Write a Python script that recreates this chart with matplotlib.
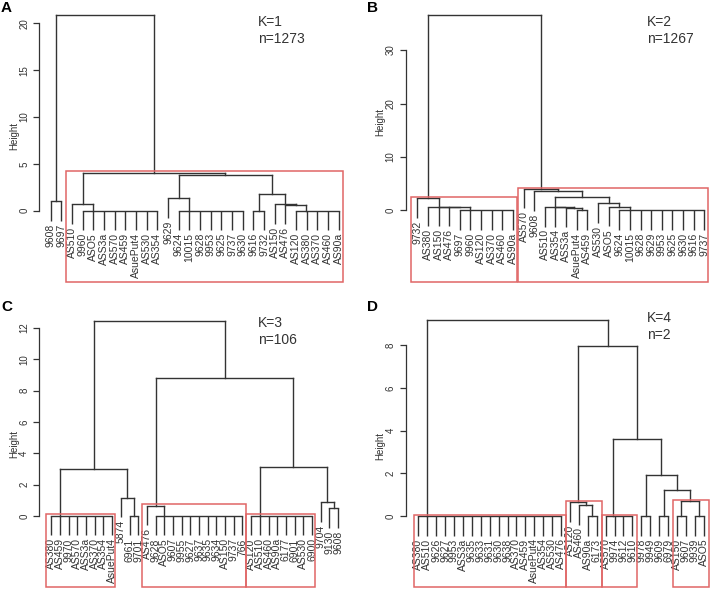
import matplotlib
matplotlib.use("Agg")
import matplotlib.pyplot as plt
from matplotlib.patches import Rectangle

plt.rcParams['font.family'] = ['Liberation Sans', 'DejaVu Sans']

W, H = 711, 589
LINE = '#333333'
BOX = '#e06666'

# Trees: a tuple is (height, left, right), a list is a group of leaves tied at height 0

# A: K=1, n=1273
a_tied1 = ['9960', 'ASO5', 'ASS3a', 'AS570', 'AS459', 'AsuePut4', 'AS530', 'AS354']
a_tied2 = ['9624', '10015', '9628', '9953', '9625', '9737', '9630']
a_tied3 = ['AS120', 'AS380', 'AS370', 'AS460', 'AS90a']
a_tree = (20.9, (1.0, '9608', '9697'),
          (4.02, (0.7, 'AS510', a_tied1),
           (3.76, (1.32, '9629', a_tied2),
            (1.8, (0.0, '9616', '9732'),
             (0.7, 'AS150', (0.65, 'AS476', a_tied3))))))
a_boxes = [('AS510', 'AS90a', 4.24)]

# B: K=2, n=1267
b_tied1 = ['9697', '9960', 'AS120', 'AS370', 'AS460', 'AS90a']
b_tied2 = ['9624', '10015', '9628', '9629', '9953', '9625', '9630', '9616', '9737']
b_tree = (36.5,
          (2.3, '9732', (0.66, 'AS380', (0.64, 'AS150', (0.62, 'AS476', b_tied1)))),
          (4.0, 'AS570',
           (3.6, '9608',
            (2.55,
             (0.6, 'AS510', (0.58, 'AS354', (0.45, 'ASS3a', (0.0, 'AsuePut4', 'AS459')))),
             (1.3, 'AS530', (0.62, 'ASO5', b_tied2))))))
b_boxes = [('9732', 'AS90a', 2.55), ('AS570', '9737', 4.1)]

# C: K=3, n=106
c_tied1 = ['AS380', 'AS459', '9970', 'AS570', 'ASS3a', 'AS370', 'AS354', 'AsuePut4']
c_tied2 = ['9628', 'ASO5', '9607', '9955', '9627', '9637', '9635', '9634', 'AS150', '9737', '766']
c_tied3 = ['AS120', 'AS510', 'AS460', 'AS90a', '6177', '6901', 'AS530', '6900']
c_tree = (12.44,
          (3.02, c_tied1, (1.15, '5874', (0.0, '6961', '9701'))),
          (8.8, (0.66, 'AS476', c_tied2),
           (3.13, c_tied3, (0.87, '9704', (0.49, '9130', '9608')))))
c_boxes = [('AS380', 'AsuePut4', 0.1), ('AS476', '766', 0.77), ('AS120', '6900', 0.1)]

# D: K=4, n=2
d_tied1 = ['AS380', 'AS510', '9626', '9627', '9953', 'ASS3a', '9635', '9633', '9631',
           '9630', '9638', 'AS370', 'AS459', 'AsuePut4', 'AS354', 'AS530', 'AS476']
d_tied2 = ['AS570', '9974', '9612', '9610']
d_tree = (9.19, d_tied1,
          (7.95, (0.64, 'AS120', (0.52, 'AS460', (0.0, 'AS90a', '6173'))),
           (3.59, d_tied2,
            (1.94, (0.0, '9978', '9949'),
             (1.2, (0.0, '9609', '6979'),
              (0.69, (0.0, 'AS150', '9607'), (0.0, '9939', 'ASO5')))))))
d_boxes = [('AS380', 'AS476', 0.05), ('AS120', '6173', 0.7),
           ('AS570', '9610', 0.05), ('AS150', 'ASO5', 0.75)]

panels = [
    dict(tree=a_tree, boxes=a_boxes, letter='A', k='K=1', n='n=1273', yticks=[0, 5, 10, 15, 20],
         leaf0=50.7, step=10.67, zero=210.7, ppu=9.37, left=39.3, right=350, top=5, bottom=282,
         pad=(0.57, 0.4), letter_xy=(1, 8), k_xy=(258, 22), ylab_xy=(14, 136)),
    dict(tree=b_tree, boxes=b_boxes, letter='B', k='K=2', n='n=1267', yticks=[0, 10, 20, 30],
         leaf0=417.3, step=10.63, zero=210.3, ppu=5.34, left=405.7, right=711, top=5, bottom=282,
         pad=(0.57, 0.37), letter_xy=(367, 8), k_xy=(647, 22), ylab_xy=(380, 122)),
    dict(tree=c_tree, boxes=c_boxes, letter='C', k='K=3', n='n=106', yticks=[0, 2, 4, 6, 8, 10, 12],
         leaf0=51.3, step=8.69, zero=516, ppu=15.67, left=39.3, right=350, top=300, bottom=587,
         pad=(0.6, 0.37), letter_xy=(1, 307), k_xy=(258, 323), ylab_xy=(14, 444)),
    dict(tree=d_tree, boxes=d_boxes, letter='D', k='K=4', n='n=2', yticks=[0, 2, 4, 6, 8],
         leaf0=418.3, step=8.92, zero=516, ppu=21.33, left=406, right=711, top=300, bottom=587,
         pad=(0.45, 0.55), letter_xy=(367, 307), k_xy=(647, 318), ylab_xy=(380, 446)),
]


def leaf(ax, x, top, hang, name, where, idx):
    ax.plot([x, x], [top, top - hang], color=LINE, lw=1.0, solid_capstyle='butt')
    ax.annotate(name, (x, top - hang), xytext=(0, -2), textcoords='offset points',
                rotation=90, ha='center', va='top', fontsize=7.5, color=LINE)
    where[name] = idx


def draw(ax, node, hang, pos, where):
    if isinstance(node, list):
        xs = []
        for name in node:
            leaf(ax, pos[0], 0, hang, name, where, pos[0])
            xs.append(pos[0])
            pos[0] += 1
        ax.plot([xs[0], xs[-1]], [0, 0], color=LINE, lw=1.0)
        x = xs[-1]
        for xi in reversed(xs[:-1]):
            x = (xi + x) / 2
        return x, 0.0
    h, lo, hi = node
    xs = []
    for child in (lo, hi):
        if isinstance(child, str):
            x = pos[0]
            leaf(ax, x, h, hang, child, where, x)
            pos[0] += 1
        else:
            x, ch = draw(ax, child, hang, pos, where)
            ax.plot([x, x], [ch, h], color=LINE, lw=1.0)
        xs.append(x)
    ax.plot(xs, [h, h], color=LINE, lw=1.0)
    return (xs[0] + xs[1]) / 2, h


fig = plt.figure(figsize=(W / 100, H / 100), dpi=100)

for p in panels:
    ax = fig.add_axes([p['left'] / W, 1 - p['bottom'] / H,
                       (p['right'] - p['left']) / W, (p['bottom'] - p['top']) / H])
    ax.set_xlim((p['left'] - p['leaf0']) / p['step'], (p['right'] - p['leaf0']) / p['step'])
    ax.set_ylim((p['zero'] - p['bottom']) / p['ppu'], (p['zero'] - p['top']) / p['ppu'])

    hang = 0.1 * p['tree'][0]
    where = {}
    draw(ax, p['tree'], hang, [0], where)

    y0 = ax.get_ylim()[0]
    for first, last, top in p['boxes']:
        x0 = where[first] - p['pad'][0]
        x1 = where[last] + p['pad'][1]
        ax.add_patch(Rectangle((x0, y0), x1 - x0, top - y0, fill=False,
                               edgecolor=BOX, lw=1.1, clip_on=False, zorder=3))

    for s in ['top', 'right', 'bottom']:
        ax.spines[s].set_visible(False)
    ax.spines['left'].set_bounds(0, p['yticks'][-1])
    ax.spines['left'].set_color(LINE)
    ax.spines['left'].set_linewidth(0.9)
    ax.set_xticks([])
    ax.set_yticks(p['yticks'])
    ax.tick_params(axis='y', direction='out', length=4.3, width=0.9, colors=LINE,
                   labelsize=7, labelrotation=90, pad=3)
    for t in ax.get_yticklabels():
        t.set_va('center')
    ax.patch.set_visible(False)

    lx, ly = p['letter_xy']
    fig.text(lx / W, 1 - ly / H, p['letter'], fontsize=11, fontweight='bold', ha='left', va='center')
    kx, ky = p['k_xy']
    fig.text(kx / W, 1 - ky / H, p['k'], fontsize=10, color=LINE, ha='left', va='center')
    fig.text(kx / W, 1 - (ky + 17) / H, p['n'], fontsize=10, color=LINE, ha='left', va='center')
    hx, hy = p['ylab_xy']
    fig.text(hx / W, 1 - hy / H, 'Height', fontsize=7, color=LINE, rotation=90, ha='center', va='center')

fig.savefig('out.png', dpi=100)
